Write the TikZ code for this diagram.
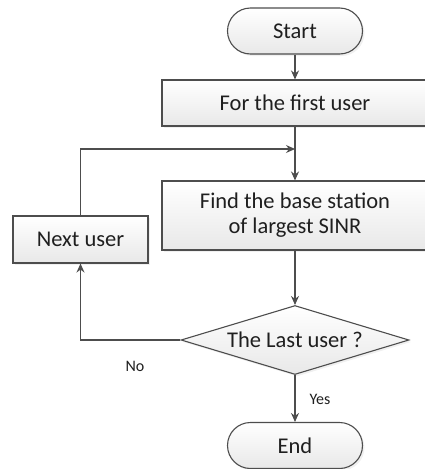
\documentclass[tikz,border=0pt]{standalone}
\usepackage{fontspec}
\setmainfont{Carlito}
\usetikzlibrary{positioning, shapes.geometric, arrows.meta, shadows}
\definecolor{linecol}{HTML}{4D4D4D}
\definecolor{txtcol}{HTML}{1F1F1F}

\begin{document}
\begin{tikzpicture}[x=1pt, y=-1pt, >={Stealth[length=9pt,width=8pt]}, line width=1.1pt, draw=linecol,
	every node/.style={font=\fontsize{22.5}{25}\selectfont, text=txtcol},
	shade/.style={draw=linecol, top color=white, bottom color=gray!18, drop shadow={opacity=0.12, shadow xshift=2pt, shadow yshift=-2pt}},
	box/.style={shade, rectangle, minimum width=266pt, inner sep=2pt, align=center},
	term/.style={shade, rectangle, rounded corners=23pt, minimum width=135pt, minimum height=46pt},
	decision/.style={shade, diamond, aspect=3.3, minimum width=228pt, minimum height=69pt, inner sep=0pt},
	lbl/.style={font=\fontsize{16}{19}\selectfont}
	]
	\useasboundingbox (0,0) rectangle (424,469);

	% blocos
	\node[term]								(start)	at (295,31)		{Start};
	\node[box, minimum height=46pt]			(first)	at (295,103)	{For the first user};
	\node[box, minimum height=69pt]			(find)	at (295,215.5)	{Find the base station\\of largest SINR};
	\node[box, minimum width=135pt, minimum height=47pt]	(next)	at (80.5,239.5)	{Next user};
	\node[decision]							(last)	at (295,340)	{The Last user ?};
	\node[term]								(end)	at (295,445.5)	{End};
	\coordinate								(merge)	at (295,149);

	% ligacoes
	\draw[->] (start) -- (first);
	\draw     (first) -- (merge);
	\draw[->] (merge) -- (find);
	\draw[->] (next) |- (merge);
	\draw[->] (find) -- (last);
	\draw[->] (last.west) -| (next);
	\draw[->] (last) -- (end);

	\node[lbl]	(no)	at (135,366)	{No};
	\node[lbl]	(yes)	at (320,399)	{Yes};
\end{tikzpicture}
\end{document}
